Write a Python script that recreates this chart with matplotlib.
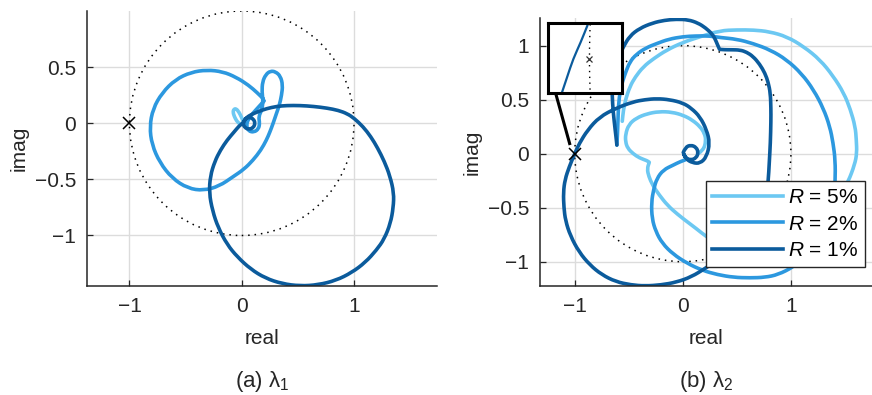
import matplotlib
matplotlib.use("Agg")
import matplotlib.pyplot as plt
import numpy as np
from matplotlib.lines import Line2D
from matplotlib.patches import PathPatch
from matplotlib.path import Path

plt.rcParams["font.family"] = ["Liberation Sans", "DejaVu Sans"]
plt.rcParams["mathtext.fontset"] = "custom"
plt.rcParams["mathtext.rm"] = "Liberation Sans"
plt.rcParams["mathtext.it"] = "Liberation Sans:italic"
plt.rcParams["mathtext.default"] = "regular"

# Nyquist loci of the first eigenvalue, (real, imag) pairs
lam1_r5 = [(0.02, 0.0), (0.0, 0.05), (-0.025, 0.10), (-0.05, 0.13), (-0.07, 0.125),
           (-0.078, 0.10), (-0.066, 0.06), (-0.045, 0.02), (-0.02, -0.005), (0.02, -0.01)]
lam1_r2 = [(0.20, 0.20), (0.15, 0.145), (0.10, 0.09), (0.06, 0.04), (0.04, -0.02), (0.06, -0.07),
           (0.11, -0.08), (0.15, -0.05), (0.16, 0.0), (0.15, 0.06), (0.18, 0.12), (0.19, 0.20),
           (0.18, 0.28), (0.185, 0.37), (0.215, 0.435), (0.255, 0.465), (0.30, 0.46), (0.345, 0.42),
           (0.365, 0.34), (0.355, 0.25), (0.335, 0.16), (0.31, 0.09), (0.28, 0.0), (0.25, -0.08),
           (0.22, -0.15), (0.17, -0.24), (0.10, -0.33), (0.02, -0.41), (-0.075, -0.475),
           (-0.20, -0.56), (-0.34, -0.60), (-0.48, -0.58), (-0.62, -0.49), (-0.73, -0.35),
           (-0.80, -0.19), (-0.82, -0.03), (-0.79, 0.13), (-0.71, 0.27), (-0.59, 0.39),
           (-0.45, 0.455), (-0.31, 0.475), (-0.17, 0.46), (-0.05, 0.41), (0.06, 0.34),
           (0.14, 0.27), (0.19, 0.22)]
lam1_r1 = [(0.01, 0.0), (0.026, 0.039), (0.065, 0.055), (0.104, 0.039), (0.12, 0.0),
           (0.104, -0.039), (0.065, -0.055), (0.026, -0.039), (0.01, 0.0), (0.04, 0.05),
           (0.09, 0.08), (0.15, 0.105), (0.22, 0.13), (0.31, 0.15), (0.40, 0.158), (0.52, 0.158),
           (0.64, 0.15), (0.76, 0.135), (0.86, 0.115), (0.94, 0.085), (1.0, 0.045), (1.08, -0.03),
           (1.15, -0.12), (1.21, -0.22), (1.27, -0.34), (1.32, -0.47), (1.355, -0.62),
           (1.35, -0.75), (1.325, -0.89), (1.27, -1.03), (1.20, -1.13), (1.10, -1.24),
           (0.98, -1.33), (0.84, -1.40), (0.68, -1.44), (0.52, -1.45), (0.36, -1.43),
           (0.21, -1.38), (0.08, -1.30), (-0.04, -1.19), (-0.13, -1.08), (-0.21, -0.93),
           (-0.26, -0.78), (-0.29, -0.62), (-0.28, -0.47), (-0.24, -0.34), (-0.19, -0.24),
           (-0.13, -0.15), (-0.07, -0.08), (-0.02, -0.02), (0.01, 0.0)]

# Nyquist loci of the second eigenvalue
lam2_r5 = [(0.14, 0.0), (0.19, 0.03), (0.215, 0.12), (0.20, 0.19), (0.16, 0.25), (0.09, 0.31),
           (0.006, 0.355), (-0.10, 0.385), (-0.22, 0.39), (-0.33, 0.37), (-0.43, 0.33),
           (-0.50, 0.27), (-0.53, 0.18), (-0.53, 0.11), (-0.51, 0.05), (-0.46, 0.0),
           (-0.40, -0.04), (-0.33, -0.065), (-0.31, -0.08), (-0.31, -0.08), (-0.33, -0.14),
           (-0.315, -0.21), (-0.28, -0.29), (-0.22, -0.38), (-0.14, -0.48), (-0.05, -0.56),
           (0.04, -0.63), (0.12, -0.69), (0.22, -0.77), (0.32, -0.83), (0.45, -0.88),
           (0.60, -0.90), (0.85, -0.87), (1.10, -0.75), (1.32, -0.55), (1.46, -0.38),
           (1.53, -0.26), (1.59, -0.10), (1.61, 0.004), (1.605, 0.13), (1.595, 0.25),
           (1.55, 0.41), (1.49, 0.56), (1.39, 0.72), (1.27, 0.868), (1.12, 0.99),
           (0.963, 1.083), (0.80, 1.13), (0.654, 1.145), (0.50, 1.146), (0.345, 1.139),
           (0.16, 1.083), (0.0, 1.03), (-0.148, 0.96), (-0.27, 0.88), (-0.365, 0.805),
           (-0.44, 0.71), (-0.49, 0.62), (-0.53, 0.50), (-0.55, 0.40), (-0.56, 0.30)]
lam2_r2 = [(0.02, -0.058), (-0.025, -0.074), (-0.087, -0.105), (-0.18, -0.15), (-0.24, -0.23),
           (-0.27, -0.33), (-0.29, -0.45), (-0.285, -0.60), (-0.25, -0.72), (-0.19, -0.83),
           (-0.09, -0.93), (0.04, -1.015), (0.18, -1.08), (0.32, -1.12), (0.47, -1.145),
           (0.62, -1.15), (0.76, -1.145), (0.88, -1.12), (1.02, -1.05), (1.16, -0.94),
           (1.27, -0.80), (1.35, -0.62), (1.395, -0.44), (1.41, -0.26), (1.41, -0.06),
           (1.39, 0.10), (1.36, 0.25), (1.30, 0.42), (1.21, 0.59), (1.10, 0.74), (0.96, 0.87),
           (0.81, 0.96), (0.65, 1.02), (0.50, 1.06), (0.345, 1.075), (0.25, 1.09), (0.12, 1.09),
           (0.0, 1.083), (-0.13, 1.06), (-0.24, 1.02), (-0.34, 0.98), (-0.43, 0.92),
           (-0.49, 0.85), (-0.53, 0.75), (-0.56, 0.66), (-0.58, 0.58), (-0.595, 0.45),
           (-0.60, 0.30), (-0.605, 0.17), (-0.61, 0.08)]
lam2_r1 = [(0.004, 0.01), (0.024, 0.06), (0.074, 0.08), (0.124, 0.06), (0.144, 0.01),
           (0.124, -0.04), (0.074, -0.06), (0.024, -0.04), (0.004, 0.01), (0.03, -0.05),
           (0.09, -0.085), (0.16, -0.09), (0.22, -0.03), (0.25, 0.10), (0.22, 0.22),
           (0.16, 0.34), (0.08, 0.42), (0.0, 0.47), (-0.12, 0.50), (-0.24, 0.51), (-0.35, 0.50),
           (-0.46, 0.48), (-0.62, 0.42), (-0.77, 0.34), (-0.88, 0.22), (-0.96, 0.09),
           (-1.0, 0.0), (-1.05, -0.12), (-1.09, -0.24), (-1.105, -0.36), (-1.10, -0.50),
           (-1.085, -0.62), (-1.04, -0.76), (-0.96, -0.91), (-0.86, -1.03), (-0.75, -1.12),
           (-0.62, -1.185), (-0.48, -1.215), (-0.35, -1.225), (-0.20, -1.215), (-0.06, -1.19),
           (0.08, -1.14), (0.21, -1.06), (0.36, -0.96), (0.50, -0.84), (0.62, -0.70),
           (0.71, -0.55), (0.77, -0.40), (0.79, -0.26), (0.80, -0.08), (0.81, 0.10),
           (0.815, 0.30), (0.815, 0.42), (0.81, 0.56), (0.79, 0.66), (0.76, 0.745),
           (0.71, 0.83), (0.65, 0.90), (0.59, 0.94), (0.53, 0.96), (0.45, 0.962),
           (0.39, 0.962), (0.34, 0.966), (0.34, 0.966), (0.32, 1.01), (0.30, 1.06),
           (0.27, 1.11), (0.21, 1.165), (0.14, 1.21), (0.05, 1.24), (-0.06, 1.245),
           (-0.17, 1.235), (-0.28, 1.21), (-0.40, 1.16), (-0.49, 1.09), (-0.55, 0.99),
           (-0.60, 0.88), (-0.635, 0.74), (-0.655, 0.62), (-0.65, 0.46), (-0.635, 0.30),
           (-0.615, 0.13), (-0.61, 0.08)]

# zoomed view of the R = 1% locus next to the critical point
zoom_r1 = [(-1.037, -0.043), (-1.030, -0.023), (-1.022, 0.0), (-1.012, 0.021), (-1.002, 0.045)]

labels = ["$\\mathit{R}$ = 5%", "$\\mathit{R}$ = 2%", "$\\mathit{R}$ = 1%"]
colors = ["#6cc8f2", "#2c98df", "#0b5b9c"]
captions = [r"(a) $\lambda_1$", r"(b) $\lambda_2$"]

INK = "#262626"
LW = 2.6


def smooth(pts):
    # quadratic B-spline through the midpoints, traced points act as control points
    pts = np.asarray(pts, dtype=float)
    verts, codes = [pts[0]], [Path.MOVETO]
    for i in range(1, len(pts) - 1):
        verts += [pts[i], (pts[i] + pts[i + 1]) / 2]
        codes += [Path.CURVE3, Path.CURVE3]
    verts.append(pts[-1])
    codes.append(Path.LINETO)
    return Path(verts, codes)


def draw_locus(ax, pts, color, lw=LW, zorder=2):
    ax.add_patch(PathPatch(smooth(pts), fill=False, edgecolor=color, linewidth=lw,
                           capstyle="round", joinstyle="round", zorder=zorder))


def style_axes(ax, xlim, ylim, yticks):
    ax.set_xlim(*xlim)
    ax.set_ylim(*ylim)
    ax.set_xticks([-1, 0, 1])
    ax.set_yticks(yticks)
    ax.set_yticklabels([f"{t:g}".replace("-", "\u2212") for t in yticks])
    ax.set_xticklabels(["\u22121", "0", "1"])
    ax.spines[["top", "right"]].set_visible(False)
    for side in ("left", "bottom"):
        ax.spines[side].set_color(INK)
        ax.spines[side].set_linewidth(1.1)
    ax.tick_params(direction="in", length=4, width=0.9, colors=INK, labelsize=15, pad=8)
    ax.grid(color="#dcdcdc", linewidth=1.0)
    ax.set_axisbelow(True)
    ax.set_xlabel("real", fontsize=15, color=INK, labelpad=9)
    ax.set_ylabel("imag", fontsize=15, color=INK, labelpad=4)


def unit_circle(ax, lw=1.1):
    ax.add_patch(plt.Circle((0, 0), 1, fill=False, color="black",
                            linestyle=(0, (1, 3.2)), linewidth=lw, zorder=1.5))


fig = plt.figure(figsize=(8.72, 3.95), dpi=100)
ax1 = fig.add_axes([87 / 872, 1 - 286 / 395, 350 / 872, 275 / 395])
ax2 = fig.add_axes([540 / 872, 1 - 286 / 395, 332 / 872, 268 / 395])

style_axes(ax1, (-1.378, 1.739), (-1.45, 1.0), [-1, -0.5, 0, 0.5])
style_axes(ax2, (-1.321, 1.75), (-1.225, 1.256), [-1, -0.5, 0, 0.5, 1])

for ax, curves in [(ax1, [lam1_r5, lam1_r2, lam1_r1]), (ax2, [lam2_r5, lam2_r2, lam2_r1])]:
    unit_circle(ax)
    for pts, color in zip(curves, colors):
        draw_locus(ax, pts, color)
    ax.plot(-1, 0, marker="x", color="black", markersize=9, markeredgewidth=1.1, zorder=3)

handles = [Line2D([], [], color=c, linewidth=LW) for c in colors]
leg = ax2.legend(handles, labels, loc="upper right", bbox_to_anchor=(0.98, 0.39), fontsize=15,
                 handlelength=3.4, handletextpad=0.25, labelspacing=0.36, borderpad=0.32,
                 borderaxespad=0, fancybox=False, framealpha=1)
leg.get_frame().set_edgecolor(INK)
leg.get_frame().set_linewidth(1.0)
leg.set_zorder(5)

# inset with the close-up around the critical point
ix0, iy0, iw, ih = -1.247, 0.562, 0.685, 0.648
axin = ax2.inset_axes([ix0, iy0, iw, ih], transform=ax2.transData, zorder=6)
axin.set_xlim(-1.056, -0.956)
axin.set_ylim(-0.044, 0.0464)
axin.set_xticks([])
axin.set_yticks([])
for sp in axin.spines.values():
    sp.set_linewidth(2.2)
    sp.set_color("black")
unit_circle(axin, lw=1.0)
draw_locus(axin, zoom_r1, colors[2], lw=1.6)
axin.plot(-1, 0, marker="x", color="#333333", markersize=5, markeredgewidth=0.9)

ax2.plot([ix0 + 0.07, -1.043], [iy0, 0.08], color="black", linewidth=2.2,
         solid_capstyle="butt", zorder=5)

for ax, cap in zip([ax1, ax2], captions):
    box = ax.get_position()
    fig.text(box.x0 + box.width / 2, 1 - 381 / 395, cap,
             ha="center", va="center", fontsize=16, color=INK)

fig.savefig("out.png", dpi=100)
